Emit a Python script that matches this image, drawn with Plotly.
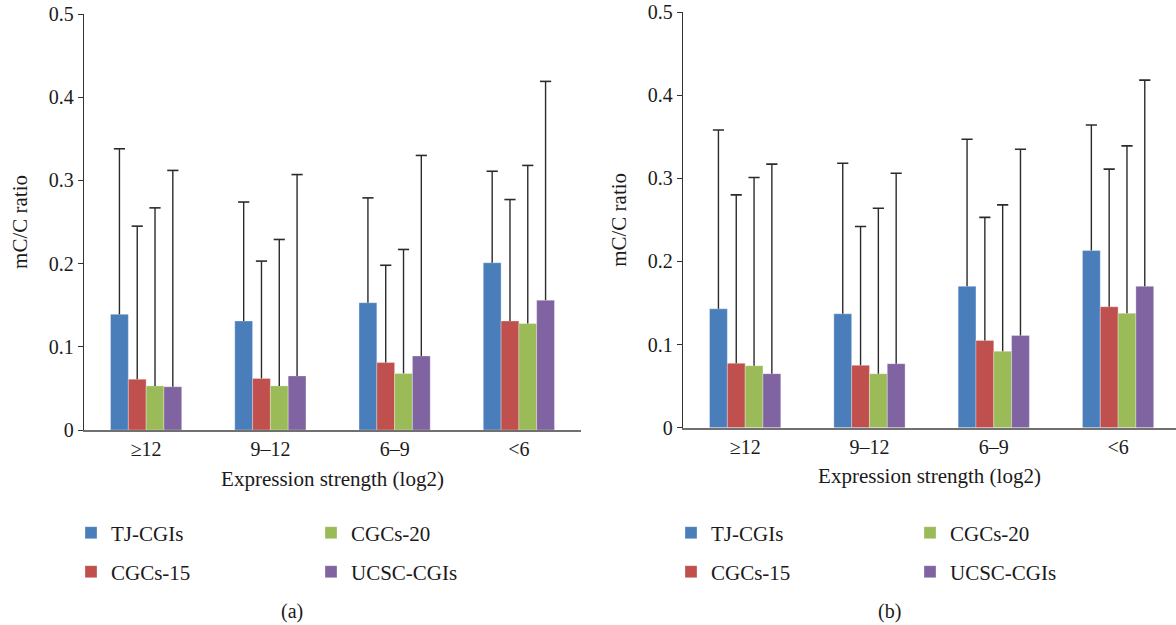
import plotly.graph_objects as go

categories = ["≥12", "9–12", "6–9", "<6"]
series_names = ["TJ-CGIs", "CGCs-15", "CGCs-20", "UCSC-CGIs"]
colors = ["#4A7EBB", "#C0504D", "#9BBB59", "#8064A2"]

# Panel (a): means and upper error-bar tops
a_means = {
    "TJ-CGIs":   [0.139, 0.131, 0.153, 0.201],
    "CGCs-15":   [0.061, 0.062, 0.081, 0.131],
    "CGCs-20":   [0.053, 0.053, 0.068, 0.128],
    "UCSC-CGIs": [0.052, 0.065, 0.089, 0.156],
}
a_tops = {
    "TJ-CGIs":   [0.338, 0.274, 0.279, 0.311],
    "CGCs-15":   [0.245, 0.203, 0.198, 0.277],
    "CGCs-20":   [0.267, 0.229, 0.217, 0.318],
    "UCSC-CGIs": [0.312, 0.307, 0.330, 0.419],
}
# Panel (b)
b_means = {
    "TJ-CGIs":   [0.143, 0.137, 0.170, 0.213],
    "CGCs-15":   [0.0775, 0.075, 0.105, 0.1455],
    "CGCs-20":   [0.0746, 0.065, 0.092, 0.1376],
    "UCSC-CGIs": [0.065, 0.077, 0.111, 0.170],
}
b_tops = {
    "TJ-CGIs":   [0.358, 0.318, 0.347, 0.364],
    "CGCs-15":   [0.280, 0.242, 0.253, 0.311],
    "CGCs-20":   [0.301, 0.264, 0.268, 0.339],
    "UCSC-CGIs": [0.317, 0.306, 0.335, 0.418],
}

FONT = "Liberation Serif"
TXT = "#1a1a1a"
ERR = "#2b2b2b"
W, H = 1176, 625
GAP = 0.427

fig = go.Figure()

legend_ids_a = ["legend2", "legend3", "legend4", "legend5"]
legend_ids_b = ["legend6", "legend7", "legend8", "legend9"]


def add_panel(means, tops, xa, ya, legends):
    for name, color, lg in zip(series_names, colors, legends):
        m = means[name]
        err = [t - v for t, v in zip(tops[name], m)]
        fig.add_trace(go.Bar(
            x=categories, y=m, name=name, xaxis=xa, yaxis=ya,
            marker=dict(color=color, line=dict(color="rgba(255,255,255,0.5)", width=0.6)),
            error_y=dict(type="data", symmetric=False, array=err,
                         arrayminus=[0] * len(err), color=ERR,
                         thickness=1.4, width=0),
            legend=lg,
        ))
    # caps of the error bars (top only)
    for name in series_names:
        fig.add_trace(go.Scatter(
            x=categories, y=tops[name], xaxis=xa, yaxis=ya, mode="markers",
            marker=dict(symbol="line-ew", size=8, color=ERR,
                        line=dict(color=ERR, width=1.6)),
            showlegend=False, hoverinfo="skip",
        ))


add_panel(a_means, a_tops, "x", "y", legend_ids_a)
add_panel(b_means, b_tops, "x2", "y2", legend_ids_b)


def px_x(p):
    return p / W


def px_y(p):
    return 1 - p / H


tick_font = dict(family=FONT, size=20, color=TXT)
title_font = dict(family=FONT, size=21, color=TXT)

yaxis_common = dict(
    range=[0, 0.5], tickvals=[0, 0.1, 0.2, 0.3, 0.4, 0.5],
    ticktext=["0", "0.1", "0.2", "0.3", "0.4", "0.5"],
    showgrid=False, zeroline=False, showline=True, linecolor="#333333",
    linewidth=1.4, ticks="outside", ticklen=5, tickcolor="#333333",
    tickwidth=1.2, tickfont=tick_font,
    title=dict(text="mC/C ratio", font=title_font, standoff=15),
)
xaxis_common = dict(
    showgrid=False, zeroline=False, showline=True, linecolor="#707070",
    linewidth=2, ticks="", tickfont=tick_font,
    title=dict(text="Expression strength (log2)", font=title_font, standoff=12),
)

fig.update_layout(
    width=W, height=H,
    margin=dict(l=0, r=0, t=0, b=0, autoexpand=False),
    paper_bgcolor="white", plot_bgcolor="white",
    barmode="group", bargap=GAP, bargroupgap=0,
    scattermode="group", scattergap=GAP,
    showlegend=True,
    font=dict(family=FONT, size=20, color=TXT),
    xaxis=dict(domain=[px_x(84), px_x(581)], anchor="y", range=[-0.5, 3.5], **xaxis_common),
    yaxis=dict(domain=[px_y(430), px_y(14)], anchor="x", **yaxis_common),
    xaxis2=dict(domain=[px_x(683), 1.0], anchor="y2", range=[-0.5, 3.466], **xaxis_common),
    yaxis2=dict(domain=[px_y(427.7), px_y(12)], anchor="x2", **yaxis_common),
)

# legend positions: (swatch centre x, row centre y)
leg_pos_a = [(92, 533), (92, 572), (332, 533), (332, 572)]
leg_pos_b = [(692, 533), (692, 572), (931, 533), (931, 572)]
for ids, pos in ((legend_ids_a, leg_pos_a), (legend_ids_b, leg_pos_b)):
    for lg, (cx, cy) in zip(ids, pos):
        fig.update_layout({lg: dict(
            x=px_x(cx - 21), y=px_y(cy), xanchor="left", yanchor="middle",
            xref="paper", yref="paper", bgcolor="rgba(0,0,0,0)", borderwidth=0,
            font=dict(family=FONT, size=21, color=TXT),
            orientation="v",
        )})

fig.add_annotation(text="(a)", x=px_x(292), y=px_y(611), xref="paper", yref="paper",
                   xanchor="center", yanchor="middle",
                   showarrow=False, font=dict(family=FONT, size=20, color=TXT))
fig.add_annotation(text="(b)", x=px_x(889), y=px_y(611), xref="paper", yref="paper",
                   xanchor="center", yanchor="middle",
                   showarrow=False, font=dict(family=FONT, size=20, color=TXT))

fig.write_html("out.html")
